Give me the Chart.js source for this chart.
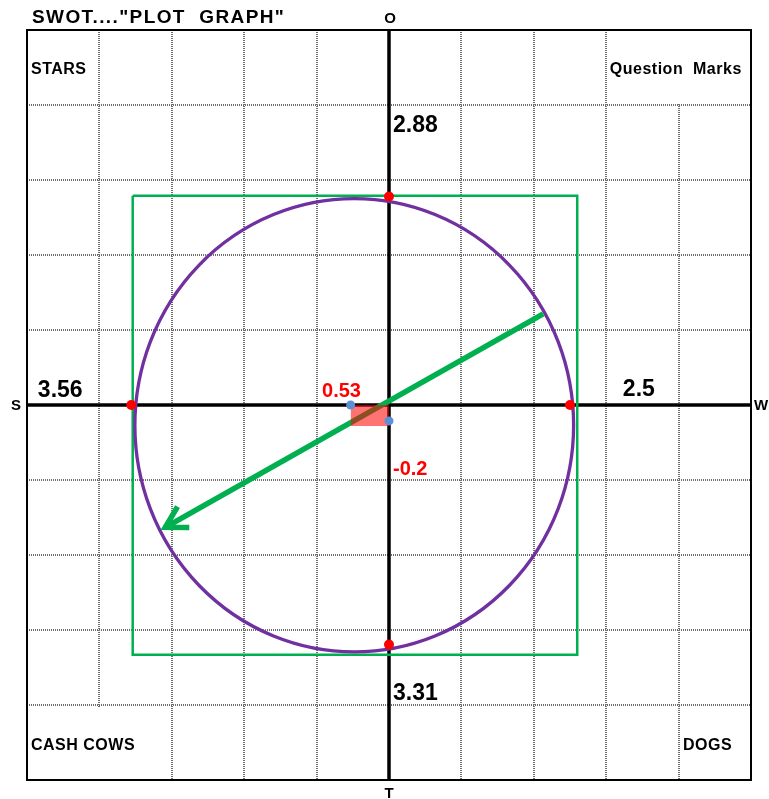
<!DOCTYPE html>
<html>
<head>
<meta charset="utf-8">
<title>SWOT plot graph</title>
<script src="https://cdn.jsdelivr.net/npm/chart.js@4.4.1/dist/chart.umd.min.js"></script>
<style>
  html, body { margin: 0; padding: 0; background: #fff; }
  canvas { display: block; }
</style>
</head>
<body>
<canvas id="swot" width="769" height="799"></canvas>
<script>
// axis scores: S (left), W (right), O (up), T (down)
const axisLetters = ["S", "W", "O", "T"];
const axisScores = [3.56, 2.5, 2.88, 3.31];
const scoreLabels = ["3.56", "2.5", "2.88", "3.31"];

// centre of gravity and its labels
const centre = [-0.53, -0.22];
const centreLabels = ["0.53", "-0.2"];
const shadeBottom = -0.29;

// drawn shapes: bounding box, circle, strategy arrow
const boxX = [-3.54, 2.6];
const boxY = [-3.45, 2.89];
const circleCentre = [-0.48, -0.28];
const circleRadii = [3.03, 3.13];
const arrowFrom = [2.13, 1.26];
const arrowTo = [-3.09, -1.69];

const quadrantNames = ["STARS", "Question  Marks", "CASH COWS", "DOGS"];

// grid: 10 columns of 1 unit, 10 rows slightly taller than a unit
const xTicks = [-5, -4, -3, -2, -1, 0, 1, 2, 3, 4, 5];
const yTicks = [-5.18, -4.144, -3.108, -2.072, -1.036, 0, 1.036, 2.072, 3.108, 4.144, 5.18];

const GREEN = "#00b050";
const PURPLE = "#7030a0";
const FONT = "Arial, 'Liberation Sans', sans-serif";

const pts = (xs, ys) => xs.map((x, i) => ({ x: x, y: ys[i] }));

const datasets = [
  {
    label: "axes-h",
    data: pts([xTicks[0], xTicks[10]], [0, 0]),
    borderColor: "#000", borderWidth: 3.5, pointRadius: 0, order: 7
  },
  {
    label: "axes-v",
    data: pts([0, 0], [yTicks[0], yTicks[10]]),
    borderColor: "#000", borderWidth: 3.5, pointRadius: 0, order: 7
  },
  {
    label: "box",
    data: pts([boxX[0], boxX[1], boxX[1], boxX[0], boxX[0]],
              [boxY[1], boxY[1], boxY[0], boxY[0], boxY[1]]),
    borderColor: GREEN, borderWidth: 2.5, pointRadius: 0, order: 6
  },
  {
    label: "arrow",
    data: pts([arrowFrom[0], arrowTo[0]], [arrowFrom[1], arrowTo[1]]),
    borderColor: GREEN, borderWidth: 5.5, pointRadius: 0, order: 5
  },
  {
    label: "shade",
    data: pts([centre[0], 0], [shadeBottom, shadeBottom]),
    borderWidth: 0, pointRadius: 0, fill: "origin",
    backgroundColor: "rgba(255, 0, 0, 0.55)", order: 4
  },
  {
    label: "scores",
    data: pts([-axisScores[0], axisScores[1], 0, 0], [0, 0, axisScores[2], -axisScores[3]]),
    showLine: false, pointRadius: 5, pointBackgroundColor: "#ff0000",
    pointBorderWidth: 0, order: 3
  },
  {
    label: "centre",
    data: pts([centre[0], 0], [0, centre[1]]),
    showLine: false, pointRadius: 4.5, pointBackgroundColor: "#5b8fd6",
    pointBorderWidth: 0, order: 2
  }
];

function text(ctx, str, x, capMid, size, color, align) {
  ctx.font = "bold " + size + "px " + FONT;
  ctx.fillStyle = color;
  ctx.textAlign = align || "left";
  ctx.textBaseline = "alphabetic";
  ctx.fillText(str, x, capMid + size * 0.358);
}

const swotPlugin = {
  id: "swot",
  beforeDatasetsDraw(chart) {
    const { ctx, chartArea: a, scales: { x, y } } = chart;
    ctx.save();
    // merged cells: no grid line through the top-right and bottom-left labels
    ctx.fillStyle = "#fff";
    ctx.fillRect(x.getPixelForValue(4) - 3, a.top, 6, y.getPixelForValue(yTicks[9]) - a.top - 2);
    const by = y.getPixelForValue(yTicks[1]) + 2;
    ctx.fillRect(x.getPixelForValue(-4) - 3, by, 6, a.bottom - by);
    // frame
    ctx.strokeStyle = "#000";
    ctx.lineWidth = 2;
    ctx.strokeRect(a.left, a.top, a.right - a.left, a.bottom - a.top);
    ctx.restore();
  },
  afterDatasetDraw(chart, args) {
    const { ctx, scales: { x, y } } = chart;
    const label = chart.data.datasets[args.index].label;
    if (label === "box") {
      const cx = x.getPixelForValue(circleCentre[0]);
      const cy = y.getPixelForValue(circleCentre[1]);
      const rx = x.getPixelForValue(circleCentre[0] + circleRadii[0]) - cx;
      const ry = cy - y.getPixelForValue(circleCentre[1] + circleRadii[1]);
      ctx.save();
      ctx.beginPath();
      ctx.ellipse(cx, cy, rx, ry, 0, 0, Math.PI * 2);
      ctx.strokeStyle = PURPLE;
      ctx.lineWidth = 3.3;
      ctx.stroke();
      ctx.restore();
    }
    if (label === "arrow") {
      const [p0, p1] = args.meta.data;
      const ang = Math.atan2(p0.y - p1.y, p0.x - p1.x);
      const len = 24;
      ctx.save();
      ctx.strokeStyle = GREEN;
      ctx.lineWidth = 5.5;
      ctx.lineJoin = "miter";
      ctx.beginPath();
      ctx.moveTo(p1.x + len * Math.cos(ang - 0.52), p1.y + len * Math.sin(ang - 0.52));
      ctx.lineTo(p1.x, p1.y);
      ctx.lineTo(p1.x + len * Math.cos(ang + 0.52), p1.y + len * Math.sin(ang + 0.52));
      ctx.stroke();
      ctx.restore();
    }
  },
  afterDraw(chart) {
    const { ctx, chartArea: a, scales: { x, y } } = chart;
    const px = v => x.getPixelForValue(v);
    const py = v => y.getPixelForValue(v);
    ctx.save();
    ctx.letterSpacing = "1.4px";
    text(ctx, 'SWOT...."PLOT  GRAPH"', 32, 16.5, 19, "#000");

    // quadrant names
    ctx.letterSpacing = "0.5px";
    text(ctx, quadrantNames[0], a.left + 4, py(4.65), 16, "#000");
    text(ctx, quadrantNames[1], px(3.05), py(4.65), 16, "#000");
    text(ctx, quadrantNames[2], a.left + 4, py(-4.68), 16, "#000");
    text(ctx, quadrantNames[3], px(4.06), py(-4.68), 16, "#000");

    // scores
    ctx.letterSpacing = "0px";
    text(ctx, scoreLabels[0], px(-4.85), py(0.22), 23, "#000");
    text(ctx, scoreLabels[1], px(3.23), py(0.235), 23, "#000");
    text(ctx, scoreLabels[2], px(0) + 4, py(3.88), 23, "#000");
    text(ctx, scoreLabels[3], px(0) + 4, py(-3.96), 23, "#000");

    // centre
    text(ctx, centreLabels[0], px(-0.925), py(0.214), 20, "#ff0000");
    text(ctx, centreLabels[1], px(0) + 4, py(-0.863), 20, "#ff0000");

    // axis letters
    text(ctx, axisLetters[2], px(0) + 1, a.top - 12.5, 15, "#000", "center");
    text(ctx, axisLetters[3], px(0), a.bottom + 13, 15, "#000", "center");
    text(ctx, axisLetters[0], 16, py(0), 15, "#000", "center");
    text(ctx, axisLetters[1], 761, py(0), 15, "#000", "center");
    ctx.restore();
  }
};

new Chart(document.getElementById("swot"), {
  type: "scatter",
  data: { datasets: datasets },
  plugins: [swotPlugin],
  options: {
    responsive: false,
    animation: false,
    events: [],
    showLine: true,
    layout: { padding: { left: 27, right: 18, top: 30, bottom: 19 } },
    plugins: { legend: { display: false }, tooltip: { enabled: false } },
    scales: {
      x: {
        type: "linear", min: xTicks[0], max: xTicks[10],
        afterBuildTicks: s => { s.ticks = xTicks.map(v => ({ value: v })); },
        ticks: { display: false },
        grid: { color: "#6e6e6e", lineWidth: 2, drawTicks: false },
        border: { display: false, dash: [1, 1] }
      },
      y: {
        type: "linear", min: yTicks[0], max: yTicks[10],
        afterBuildTicks: s => { s.ticks = yTicks.map(v => ({ value: v })); },
        ticks: { display: false },
        grid: { color: "#6e6e6e", lineWidth: 2, drawTicks: false },
        border: { display: false, dash: [1, 1] }
      }
    }
  }
});
</script>
</body>
</html>
